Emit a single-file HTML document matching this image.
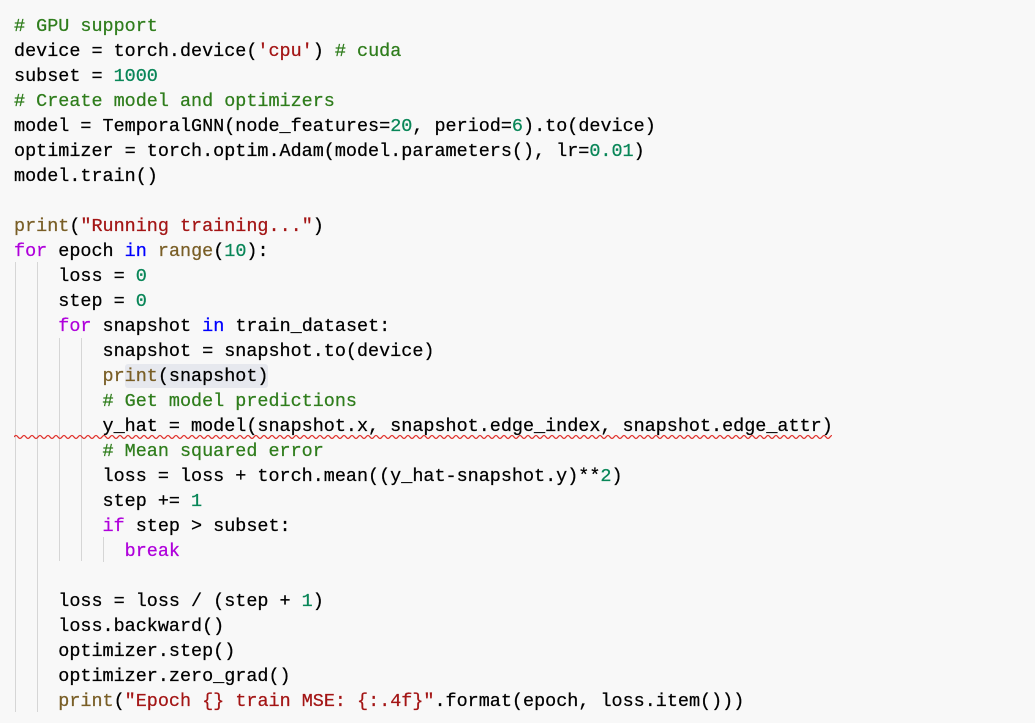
<!DOCTYPE html>
<html><head><meta charset="utf-8"><style>
html,body{margin:0;padding:0;}
body{width:1035px;height:721px;background:#f8f8f8;position:relative;overflow:hidden;font-family:"Liberation Mono",monospace;font-size:18.45px;color:#000;}
.l{position:absolute;left:14px;height:25px;line-height:25px;white-space:pre;-webkit-text-stroke:0.25px currentColor;}
.c{color:#2f7d1c}.s{color:#a31515}.n{color:#098658}.k{color:#af00db}.b{color:#0000ff}.f{color:#795e26}
.g{position:absolute;width:1px;background:#d6d6d6;}
#t{position:absolute;left:0;top:2px;width:1035px;height:721px;}
</style></head><body>
<div style="position:absolute;left:125px;top:364px;width:143px;height:24px;background:#e6e8ee;border-radius:3px"></div>
<div class="g" style="left:15px;top:262px;height:450px"></div>
<div class="g" style="left:37px;top:262px;height:450px"></div>
<div class="g" style="left:59px;top:338px;height:223px"></div>
<div class="g" style="left:81px;top:338px;height:223px"></div>
<div class="g" style="left:103px;top:537px;height:25px"></div>
<svg style="position:absolute;left:14px;top:433px" width="818" height="8"><path d="M0 4 q2-3 4 0 t4 0 t4 0 t4 0 t4 0 t4 0 t4 0 t4 0 t4 0 t4 0 t4 0 t4 0 t4 0 t4 0 t4 0 t4 0 t4 0 t4 0 t4 0 t4 0 t4 0 t4 0 t4 0 t4 0 t4 0 t4 0 t4 0 t4 0 t4 0 t4 0 t4 0 t4 0 t4 0 t4 0 t4 0 t4 0 t4 0 t4 0 t4 0 t4 0 t4 0 t4 0 t4 0 t4 0 t4 0 t4 0 t4 0 t4 0 t4 0 t4 0 t4 0 t4 0 t4 0 t4 0 t4 0 t4 0 t4 0 t4 0 t4 0 t4 0 t4 0 t4 0 t4 0 t4 0 t4 0 t4 0 t4 0 t4 0 t4 0 t4 0 t4 0 t4 0 t4 0 t4 0 t4 0 t4 0 t4 0 t4 0 t4 0 t4 0 t4 0 t4 0 t4 0 t4 0 t4 0 t4 0 t4 0 t4 0 t4 0 t4 0 t4 0 t4 0 t4 0 t4 0 t4 0 t4 0 t4 0 t4 0 t4 0 t4 0 t4 0 t4 0 t4 0 t4 0 t4 0 t4 0 t4 0 t4 0 t4 0 t4 0 t4 0 t4 0 t4 0 t4 0 t4 0 t4 0 t4 0 t4 0 t4 0 t4 0 t4 0 t4 0 t4 0 t4 0 t4 0 t4 0 t4 0 t4 0 t4 0 t4 0 t4 0 t4 0 t4 0 t4 0 t4 0 t4 0 t4 0 t4 0 t4 0 t4 0 t4 0 t4 0 t4 0 t4 0 t4 0 t4 0 t4 0 t4 0 t4 0 t4 0 t4 0 t4 0 t4 0 t4 0 t4 0 t4 0 t4 0 t4 0 t4 0 t4 0 t4 0 t4 0 t4 0 t4 0 t4 0 t4 0 t4 0 t4 0 t4 0 t4 0 t4 0 t4 0 t4 0 t4 0 t4 0 t4 0 t4 0 t4 0 t4 0 t4 0 t4 0 t4 0 t4 0 t4 0 t4 0 t4 0 t4 0 t4 0 t4 0 t4 0 t4 0 t4 0 t4 0 t4 0 t4 0 t4 0 t4 0 t4 0 t4 0 t4 0 t4 0 t4 0 t4 0 t4 0 t4 0 t4 0 t4 0 t4 0 t4 0 t4 0 t4 0 t4 0 t4 0 t4 0 t4 0 t4 0 t4 0 t4 0 t4 0 t4 0 t4 0 t4 0 t4 0 t4 0 t4 0 t4 0 t4 0 t4 0 t4 0 t4 0 t4 0 t4 0 t4 0 t4 0 t4 0 t4 0 t4 0 t4 0 t4 0 t4 0 t4 0 t4 0 t4 0 t4 0 t4 0 t4 0 t4 0 t4 0 t4 0 t4 0 t4 0 t4 0 t4 0 t4 0 t4 0 t4 0 t4 0 t4 0 t4 0 t4 0 t4 0 t4 0 t4 0 t4 0 t4 0 t4 0 t4 0" fill="none" stroke="#e0302a" stroke-width="1.2"/></svg>
<div id="t">
<div class="l" style="top:12px"><span class="c"># GPU support</span></div>
<div class="l" style="top:37px">device = torch.device(<span class="s">'cpu'</span>) <span class="c"># cuda</span></div>
<div class="l" style="top:62px">subset = <span class="n">1000</span></div>
<div class="l" style="top:87px"><span class="c"># Create model and optimizers</span></div>
<div class="l" style="top:112px">model = TemporalGNN(node_features=<span class="n">20</span>, period=<span class="n">6</span>).to(device)</div>
<div class="l" style="top:137px">optimizer = torch.optim.Adam(model.parameters(), lr=<span class="n">0.01</span>)</div>
<div class="l" style="top:162px">model.train()</div>
<div class="l" style="top:212px"><span class="f">print</span>(<span class="s">"Running training..."</span>)</div>
<div class="l" style="top:237px"><span class="k">for</span> epoch <span class="b">in</span> <span class="f">range</span>(<span class="n">10</span>):</div>
<div class="l" style="top:262px">    loss = <span class="n">0</span></div>
<div class="l" style="top:287px">    step = <span class="n">0</span></div>
<div class="l" style="top:312px">    <span class="k">for</span> snapshot <span class="b">in</span> train_dataset:</div>
<div class="l" style="top:337px">        snapshot = snapshot.to(device)</div>
<div class="l" style="top:362px">        <span class="f">print</span>(snapshot)</div>
<div class="l" style="top:387px">        <span class="c"># Get model predictions</span></div>
<div class="l" style="top:412px">        y_hat = model(snapshot.x, snapshot.edge_index, snapshot.edge_attr)</div>
<div class="l" style="top:437px">        <span class="c"># Mean squared error</span></div>
<div class="l" style="top:462px">        loss = loss + torch.mean((y_hat-snapshot.y)**<span class="n">2</span>)</div>
<div class="l" style="top:487px">        step += <span class="n">1</span></div>
<div class="l" style="top:512px">        <span class="k">if</span> step &gt; subset:</div>
<div class="l" style="top:537px">          <span class="k">break</span></div>
<div class="l" style="top:587px">    loss = loss / (step + <span class="n">1</span>)</div>
<div class="l" style="top:612px">    loss.backward()</div>
<div class="l" style="top:637px">    optimizer.step()</div>
<div class="l" style="top:662px">    optimizer.zero_grad()</div>
<div class="l" style="top:687px">    <span class="f">print</span>(<span class="s">"Epoch {} train MSE: {:.4f}"</span>.format(epoch, loss.item()))</div>
</div>
</body></html>
